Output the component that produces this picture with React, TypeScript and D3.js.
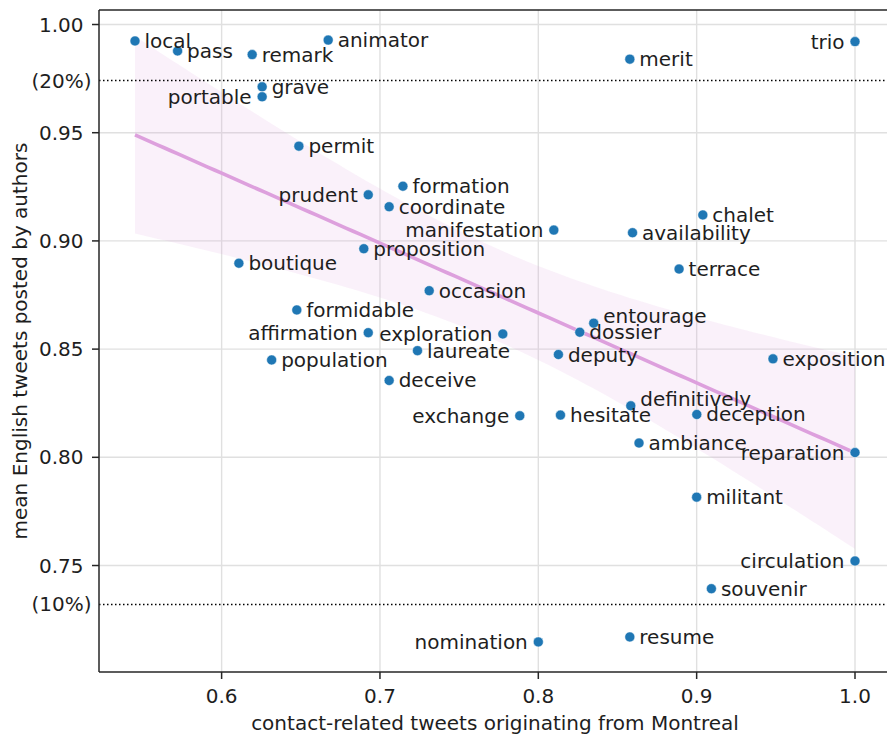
import React from "react";
import * as d3 from "d3";

const words = [
  "local", "pass", "remark", "animator", "grave", "portable", "permit", "merit", "trio",
  "prudent", "formation", "coordinate", "manifestation", "proposition", "boutique", "occasion",
  "formidable", "affirmation", "exploration", "laureate", "population", "deceive", "exchange",
  "hesitate", "deputy", "dossier", "entourage", "definitively", "ambiance", "deception",
  "reparation", "militant", "chalet", "availability", "terrace", "exposition", "circulation",
  "souvenir", "nomination", "resume",
];
const montrealShare = [
  0.5453, 0.5722, 0.6193, 0.6673, 0.6256, 0.6256, 0.6488, 0.8578, 1.0,
  0.6926, 0.7145, 0.7058, 0.8098, 0.6898, 0.6109, 0.7311,
  0.6475, 0.6926, 0.7776, 0.7237, 0.6316, 0.7058, 0.7883,
  0.814, 0.8127, 0.8262, 0.835, 0.8584, 0.8636, 0.9001,
  1.0, 0.9, 0.9039, 0.8595, 0.8889, 0.9482, 1.0,
  0.9093, 0.8, 0.8578,
];
const englishShare = [
  0.9924, 0.9878, 0.9861, 0.9928, 0.9712, 0.9666, 0.9438, 0.984, 0.9921,
  0.9213, 0.9253, 0.9158, 0.905, 0.8964, 0.8897, 0.877,
  0.8681, 0.8576, 0.857, 0.8493, 0.845, 0.8355, 0.8192,
  0.8195, 0.8475, 0.8578, 0.862, 0.8238, 0.8066, 0.8198,
  0.8022, 0.7816, 0.912, 0.9038, 0.887, 0.8455, 0.7521,
  0.7393, 0.7147, 0.717,
];
const xTicks = [0.6, 0.7, 0.8, 0.9, 1.0];
const yTicks = [1.0, 0.95, 0.9, 0.85, 0.8, 0.75];
const refLines = [
  { value: 0.9741, label: "(20%)" },
  { value: 0.732, label: "(10%)" },
];

// label layout (annotation placement only)
const leftLabels = new Set([
  "trio", "portable", "prudent", "manifestation", "affirmation", "exploration",
  "exchange", "reparation", "circulation", "nomination",
]);
const raisedLabels = new Set(["entourage", "definitively"]);

const W = 887;
const H = 736;
const L = 99, R = 891, T = 10, B = 672;
const FONT = "DejaVu Sans, sans-serif";
const TXT = "#1e1e1e";

export default function App() {
  const pts = words.map((w, i) => ({ w, x: montrealShare[i], y: englishShare[i] }));
  const [x0, x1] = d3.extent(montrealShare) as [number, number];
  const [y0, y1] = d3.extent(englishShare) as [number, number];
  const mx = (x1 - x0) * 0.05;
  const my = (y1 - y0) * 0.05;
  const x = d3.scaleLinear().domain([x0 - mx, x1 + mx]).range([L, R]);
  const y = d3.scaleLinear().domain([y0 - my, y1 + my]).range([B, T]);

  // OLS regression with 95% CI
  const n = pts.length;
  const xm = d3.mean(montrealShare)!;
  const ym = d3.mean(englishShare)!;
  let sxx = 0, sxy = 0;
  pts.forEach((p) => { sxx += (p.x - xm) ** 2; sxy += (p.x - xm) * (p.y - ym); });
  const slope = sxy / sxx;
  const icpt = ym - slope * xm;
  let sse = 0;
  pts.forEach((p) => { sse += (p.y - (icpt + slope * p.x)) ** 2; });
  const s = Math.sqrt(sse / (n - 2));
  const tcrit = 2.024;
  const grid = d3.range(100).map((i) => x0 + ((x1 - x0) * i) / 99);
  const band = grid.map((gx) => {
    const yh = icpt + slope * gx;
    const se = s * Math.sqrt(1 / n + (gx - xm) ** 2 / sxx);
    return { gx, yh, lo: yh - tcrit * se, hi: yh + tcrit * se };
  });
  const area = d3.area<any>().x((d) => x(d.gx)).y0((d) => y(d.lo)).y1((d) => y(d.hi));
  const line = d3.line<any>().x((d) => x(d.gx)).y((d) => y(d.yh));

  return (
    <svg width={W} height={H} style={{ position: "absolute", left: 0, top: 0, background: "#fff" }} fontFamily={FONT}>
      <defs>
        <clipPath id="plot">
          <rect x={L} y={T} width={R - L} height={B - T} />
        </clipPath>
      </defs>
      <g clipPath="url(#plot)">
        {xTicks.map((t) => (
          <line key={"gx" + t} x1={x(t)} x2={x(t)} y1={T} y2={B} stroke="#e0e0e0" strokeWidth={1.4} />
        ))}
        {yTicks.map((t) => (
          <line key={"gy" + t} x1={L} x2={R} y1={y(t)} y2={y(t)} stroke="#e0e0e0" strokeWidth={1.4} />
        ))}
        <path d={area(band)!} fill="plum" fillOpacity={0.15} stroke="none" />
        <path d={line(band)!} fill="none" stroke="plum" strokeWidth={3.6} />
        {refLines.map((r) => (
          <line key={r.label} x1={L} x2={R} y1={y(r.value)} y2={y(r.value)} stroke="#000" strokeWidth={1.5} strokeDasharray="1.5,2.5" />
        ))}
        {pts.map((p) => (
          <circle key={p.w} cx={x(p.x)} cy={y(p.y)} r={5} fill="#1f77b4" stroke="#fff" strokeWidth={0.5} />
        ))}
      </g>
      {pts.map((p) => {
        const left = leftLabels.has(p.w);
        const dy = raisedLabels.has(p.w) ? 0 : 7;
        return (
          <text key={"l" + p.w} x={x(p.x) + (left ? -10.5 : 9.5)} y={y(p.y) + dy} fontSize={20} fill={TXT} textAnchor={left ? "end" : "start"}>
            {p.w}
          </text>
        );
      })}
      {/* spines */}
      <line x1={L} x2={L} y1={T} y2={B} stroke="#262626" strokeWidth={1.5} />
      <line x1={L} x2={R} y1={B} y2={B} stroke="#262626" strokeWidth={1.5} />
      <line x1={L} x2={R} y1={T} y2={T} stroke="#262626" strokeWidth={1.5} />
      <line x1={R} x2={R} y1={T} y2={B} stroke="#262626" strokeWidth={1.5} />
      {/* x ticks */}
      {xTicks.map((t) => (
        <g key={"xt" + t}>
          <line x1={x(t)} x2={x(t)} y1={B} y2={B + 7} stroke="#262626" strokeWidth={1.5} />
          <text x={x(t)} y={703} fontSize={20} fill={TXT} textAnchor="middle">{d3.format(".1f")(t)}</text>
        </g>
      ))}
      {yTicks.map((t) => (
        <g key={"yt" + t}>
          <line x1={L - 7} x2={L} y1={y(t)} y2={y(t)} stroke="#262626" strokeWidth={1.5} />
          <text x={83.5} y={y(t) + 7} fontSize={20} fill={TXT} textAnchor="end">{d3.format(".2f")(t)}</text>
        </g>
      ))}
      {refLines.map((r) => (
        <text key={"rl" + r.label} x={91.5} y={y(r.value) + 7} fontSize={20} fill={TXT} textAnchor="end">{r.label}</text>
      ))}
      <text x={(L + R) / 2} y={730} fontSize={20} fill={TXT} textAnchor="middle">
        contact-related tweets originating from Montreal
      </text>
      <text transform={`translate(27,${(T + B) / 2}) rotate(-90)`} fontSize={20} fill={TXT} textAnchor="middle">
        mean English tweets posted by authors
      </text>
    </svg>
  );
}
